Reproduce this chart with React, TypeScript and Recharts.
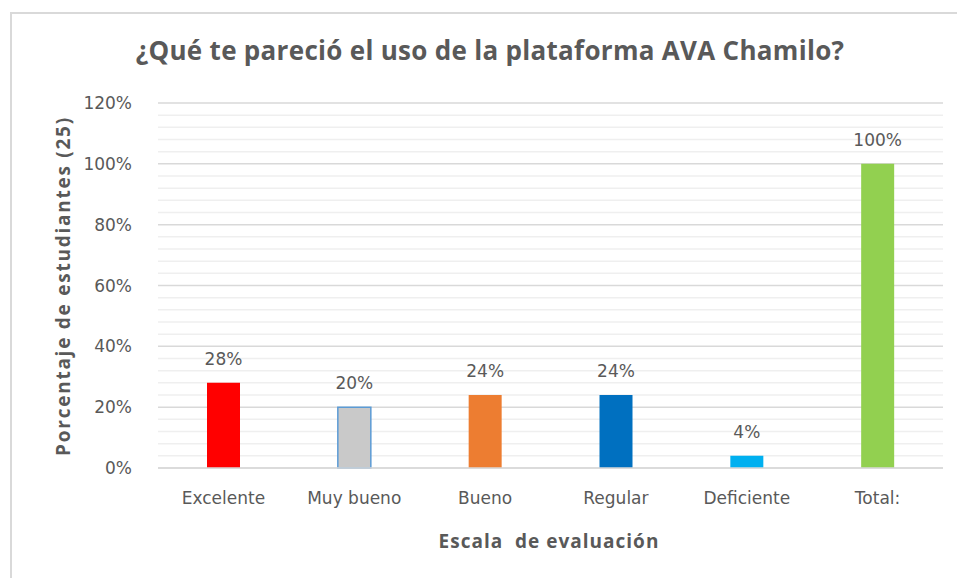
import React from "react";
import {
  BarChart,
  Bar,
  XAxis,
  YAxis,
  CartesianGrid,
  LabelList,
  Cell,
} from "recharts";

// values (percent of 25 students)
const categories = ["Excelente", "Muy bueno", "Bueno", "Regular", "Deficiente", "Total:"];
const percents = [28, 20, 24, 24, 4, 100];
const barColors = ["#FF0000", "#C9C9C9", "#ED7D31", "#0070C0", "#00B0F0", "#92D050"];
const barStrokes = ["none", "#5B9BD5", "none", "none", "none", "none"];
const yMax = 120;
const yTicks = [0, 20, 40, 60, 80, 100, 120];
const minorLines = [4, 8, 12, 16, 24, 28, 32, 36, 44, 48, 52, 56, 64, 68, 72, 76, 84, 88, 92, 96, 104, 108, 112, 116];

const data = categories.map((name, i) => ({ name, value: percents[i] }));

const FONT = "'Open Sans', 'Noto Sans', sans-serif";
const TICK_FONT = "'DejaVu Sans', sans-serif";
const GRAY = "#595959";

const MARGIN = { top: 103, right: 14, bottom: 0, left: 78 };
const CHART_H = 578;
const X_AXIS_H = 110;

// minor gridlines every 4%, placed along the plot height
const minorCoords = (props: any) => {
  const top = props?.offset?.top ?? MARGIN.top;
  const h = props?.offset?.height ?? CHART_H - MARGIN.top - MARGIN.bottom - X_AXIS_H;
  return minorLines.map((v) => top + h * (1 - v / yMax));
};

const App = () => {
  return (
    <div
      style={{
        position: "fixed",
        left: 0,
        top: 0,
        width: 957,
        height: 578,
        background: "#fff",
        fontFamily: FONT,
        overflow: "hidden",
      }}
    >
      {/* chart frame */}
      <div
        style={{
          position: "absolute",
          left: 10,
          top: 12,
          width: 960,
          height: 580,
          border: "2px solid #d9d9d9",
          boxSizing: "border-box",
        }}
      />
      <div
        style={{
          position: "absolute",
          left: 0,
          width: 980,
          top: 32,
          textAlign: "center",
          fontSize: 26,
          letterSpacing: 0.3,
          fontWeight: 700,
          color: GRAY,
        }}
      >
        ¿Qué te pareció el uso de la plataforma AVA Chamilo?
      </div>
      <div
        style={{
          position: "absolute",
          left: 63,
          top: 286,
          transform: "translate(-50%, -50%) rotate(-90deg)",
          whiteSpace: "nowrap",
          fontSize: 19,
          letterSpacing: 1.75,
          fontWeight: 700,
          color: GRAY,
        }}
      >
        Porcentaje de estudiantes (25)
      </div>
      <div
        style={{
          position: "absolute",
          left: 549,
          top: 541,
          transform: "translate(-50%, -50%)",
          whiteSpace: "pre",
          fontSize: 19,
          letterSpacing: 1,
          fontWeight: 700,
          color: GRAY,
        }}
      >
        Escala  de evaluación
      </div>
      <div style={{ position: "absolute", left: 0, top: 0 }}>
        <BarChart width={957} height={CHART_H} data={data} margin={MARGIN} barSize={33}>
          <CartesianGrid
            vertical={false}
            stroke="#efefef"
            strokeWidth={1.5}
            horizontalCoordinatesGenerator={minorCoords}
          />
          <CartesianGrid vertical={false} stroke="#d9d9d9" strokeWidth={1.5} />
          <XAxis
            dataKey="name"
            height={X_AXIS_H}
            tickLine={false}
            axisLine={{ stroke: "#d9d9d9", strokeWidth: 1.5 }}
            tick={{ fill: GRAY, fontSize: 17, fontFamily: TICK_FONT }}
            tickMargin={18}
            interval={0}
          />
          <YAxis
            width={80}
            domain={[0, yMax]}
            ticks={yTicks}
            tickFormatter={(v) => `${v}%`}
            axisLine={false}
            tickLine={false}
            tickMargin={20}
            tick={{ fill: GRAY, fontSize: 17, fontFamily: TICK_FONT }}
          />
          <Bar dataKey="value" isAnimationActive={false}>
            {data.map((d, i) => (
              <Cell key={d.name} fill={barColors[i]} stroke={barStrokes[i]} strokeWidth={1.5} />
            ))}
            <LabelList
              dataKey="value"
              position="top"
              offset={18}
              formatter={(v) => `${v}%`}
              style={{ fill: GRAY, fontSize: 17, fontFamily: TICK_FONT }}
            />
          </Bar>
        </BarChart>
      </div>
    </div>
  );
};

export default App;
